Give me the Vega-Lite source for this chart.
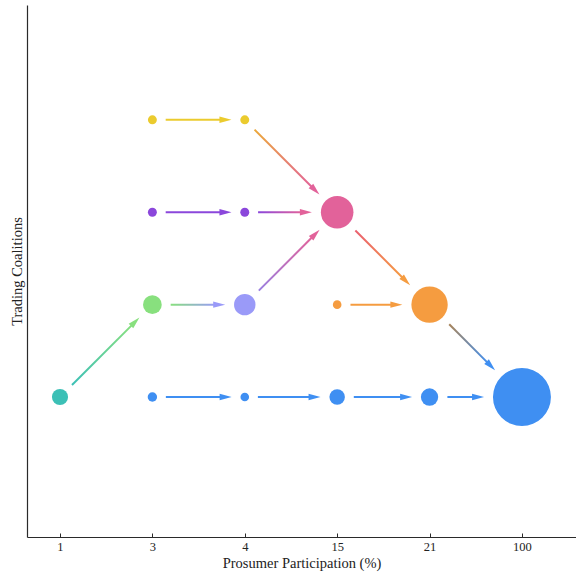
{
  "$schema": "https://vega.github.io/schema/vega-lite/v6.json",
  "width": 549,
  "height": 532,
  "autosize": {"type": "none"},
  "padding": {"left": 27, "top": 5, "right": 0, "bottom": 38},
  "background": "white",
  "config": {
    "view": {"stroke": null},
    "scale": {"continuousPadding": 0},
    "axis": {
      "grid": false,
      "domainColor": "#2a2a2a",
      "domainWidth": 1.2,
      "tickColor": "#2a2a2a",
      "labelFont": "Liberation Serif",
      "titleFont": "Liberation Serif",
      "labelColor": "#222222",
      "titleColor": "#222222",
      "titleFontWeight": "normal",
      "labelFontSize": 12.5,
      "titleFontSize": 14.5
    }
  },
  "datasets": {
    "nodes": [
      {"id": "A", "pos": 1, "level": 4, "group": "yellow", "members": 8},
      {"id": "B", "pos": 2, "level": 4, "group": "yellow", "members": 8},
      {"id": "C", "pos": 1, "level": 3, "group": "purple", "members": 8},
      {"id": "D", "pos": 2, "level": 3, "group": "purple", "members": 8},
      {"id": "E", "pos": 3, "level": 3, "group": "pink", "members": 106},
      {"id": "F", "pos": 1, "level": 2, "group": "green", "members": 35},
      {"id": "G", "pos": 2, "level": 2, "group": "lavender", "members": 46},
      {"id": "H", "pos": 3, "level": 2, "group": "orange", "members": 7.4},
      {"id": "I", "pos": 4, "level": 2, "group": "orange", "members": 132},
      {"id": "J", "pos": 0, "level": 1, "group": "teal", "members": 26},
      {"id": "K", "pos": 1, "level": 1, "group": "blue", "members": 8.8},
      {"id": "L", "pos": 2, "level": 1, "group": "blue", "members": 7.4},
      {"id": "M", "pos": 3, "level": 1, "group": "blue", "members": 24},
      {"id": "N", "pos": 4, "level": 1, "group": "blue", "members": 30},
      {"id": "O", "pos": 5, "level": 1, "group": "blue", "members": 336}
    ],
    "arrows": [
      {"id": 1, "x0": 1.144, "y0": 4, "xt": 1.856, "yt": 4, "from": "yellow", "to": "yellow"},
      {"id": 2, "x0": 1.144, "y0": 3, "xt": 1.856, "yt": 3, "from": "purple", "to": "purple"},
      {"id": 3, "x0": 2.144, "y0": 3, "xt": 2.726, "yt": 3, "from": "purple", "to": "pink"},
      {"id": 4, "x0": 1.198, "y0": 2, "xt": 1.788, "yt": 2, "from": "green", "to": "lavender"},
      {"id": 5, "x0": 3.144, "y0": 2, "xt": 3.706, "yt": 2, "from": "orange", "to": "orange"},
      {"id": 6, "x0": 1.146, "y0": 1, "xt": 1.858, "yt": 1, "from": "blue", "to": "blue"},
      {"id": 7, "x0": 2.142, "y0": 1, "xt": 2.82, "yt": 1, "from": "blue", "to": "blue"},
      {"id": 8, "x0": 3.18, "y0": 1, "xt": 3.811, "yt": 1, "from": "blue", "to": "blue"},
      {"id": 9, "x0": 4.193, "y0": 1, "xt": 4.59, "yt": 1, "from": "blue", "to": "blue"},
      {"id": 10, "x0": 0.13, "y0": 1.13, "xt": 0.86, "yt": 1.86, "from": "teal", "to": "green"},
      {"id": 11, "x0": 2.152, "y0": 2.152, "xt": 2.81, "yt": 2.81, "from": "lavender", "to": "pink"},
      {"id": 12, "x0": 2.106, "y0": 3.894, "xt": 2.808, "yt": 3.192, "from": "yellow", "to": "pink"},
      {"id": 13, "x0": 3.197, "y0": 2.803, "xt": 3.79, "yt": 2.21, "from": "pink", "to": "orange"},
      {"id": 14, "x0": 4.213, "y0": 1.787, "xt": 4.709, "yt": 1.291, "from": "orange", "to": "blue"}
    ]
  },
  "layer": [
    {
      "data": {"name": "nodes"},
      "mark": {"type": "circle", "opacity": 1},
      "encoding": {
        "x": {"field": "pos", "type": "quantitative", "title": "Prosumer Participation (%)",
          "scale": {"domain": [-0.357, 5.585], "nice": false, "zero": false, "padding": 0},
          "axis": {"values": [0, 1, 2, 3, 4, 5],
                   "labelExpr": "['1','3','4','15','21','100'][datum.value]",
                   "tickSize": -4, "labelPadding": 7, "titlePadding": 4}},
        "y": {"field": "level", "type": "quantitative", "title": "Trading Coalitions",
          "scale": {"domain": [-0.515, 5.243], "nice": false, "zero": false, "padding": 0},
          "axis": {"ticks": false, "labels": false, "titlePadding": 3}},
        "size": {"field": "members", "type": "quantitative", "legend": null,
          "scale": {"type": "linear", "zero": true, "domain": [0, 400], "range": [0, 4000]}},
        "color": {"field": "group", "type": "nominal", "legend": null,
          "scale": {"domain": ["yellow", "purple", "pink", "green", "lavender", "orange", "teal", "blue"],
                    "range": ["#EBCB2E", "#8B47DB", "#E2629A", "#88E07E", "#9A9AF8", "#F59C40", "#3CC0B6", "#3F8FF2"]}}
      }
    },
    {
      "data": {"name": "arrows"},
      "transform": [
        {"filter": "datum.from == datum.to"},
        {"calculate": "atan2(datum.yt - datum.y0, datum.xt - datum.x0)", "as": "theta"},
        {"calculate": "datum.xt - 0.1 * cos(datum.theta)", "as": "xs"},
        {"calculate": "datum.yt - 0.1 * sin(datum.theta)", "as": "ys"}
      ],
      "mark": {"type": "rule", "strokeWidth": 2},
      "encoding": {
        "x": {"field": "x0", "type": "quantitative", "title": "Prosumer Participation (%)"},
        "y": {"field": "y0", "type": "quantitative", "title": "Trading Coalitions"},
        "x2": {"field": "xs"},
        "y2": {"field": "ys"},
        "color": {"field": "from", "type": "nominal", "legend": null}
      }
    },
    {
      "data": {"name": "arrows"},
      "transform": [
        {"filter": "datum.id == 3"},
        {"calculate": "datum.xt - 0.1", "as": "xs"}
      ],
      "mark": {"type": "bar", "size": 2, "stroke": null, "cornerRadius": 0,
        "fill": {"gradient": "linear", "x1": 0, "y1": 0, "x2": 1, "y2": 0,
          "stops": [{"offset": 0, "color": "#8B47DB"}, {"offset": 1, "color": "#E2629A"}]}},
      "encoding": {
        "x": {"field": "x0", "type": "quantitative", "title": "Prosumer Participation (%)"},
        "x2": {"field": "xs"},
        "y": {"field": "y0", "type": "quantitative", "title": "Trading Coalitions"}
      }
    },
    {
      "data": {"name": "arrows"},
      "transform": [
        {"filter": "datum.id == 4"},
        {"calculate": "datum.xt - 0.1", "as": "xs"}
      ],
      "mark": {"type": "bar", "size": 2, "stroke": null, "cornerRadius": 0,
        "fill": {"gradient": "linear", "x1": 0, "y1": 0, "x2": 1, "y2": 0,
          "stops": [{"offset": 0, "color": "#88E07E"}, {"offset": 1, "color": "#9A9AF8"}]}},
      "encoding": {
        "x": {"field": "x0", "type": "quantitative", "title": "Prosumer Participation (%)"},
        "x2": {"field": "xs"},
        "y": {"field": "y0", "type": "quantitative", "title": "Trading Coalitions"}
      }
    },
    {
      "data": {"name": "arrows"},
      "transform": [
        {"filter": "datum.id == 10"},
        {"calculate": "atan2(datum.yt - datum.y0, datum.xt - datum.x0)", "as": "theta"},
        {"calculate": "datum.xt - 0.1 * cos(datum.theta)", "as": "xs"},
        {"calculate": "datum.yt - 0.1 * sin(datum.theta)", "as": "ys"}
      ],
      "mark": {"type": "rule", "strokeWidth": 2,
        "stroke": {"gradient": "linear", "x1": 0, "y1": 1, "x2": 1, "y2": 0,
          "stops": [{"offset": 0, "color": "#3CC0B6"}, {"offset": 1, "color": "#88E07E"}]}},
      "encoding": {
        "x": {"field": "x0", "type": "quantitative", "title": "Prosumer Participation (%)"},
        "y": {"field": "y0", "type": "quantitative", "title": "Trading Coalitions"},
        "x2": {"field": "xs"},
        "y2": {"field": "ys"}
      }
    },
    {
      "data": {"name": "arrows"},
      "transform": [
        {"filter": "datum.id == 11"},
        {"calculate": "atan2(datum.yt - datum.y0, datum.xt - datum.x0)", "as": "theta"},
        {"calculate": "datum.xt - 0.1 * cos(datum.theta)", "as": "xs"},
        {"calculate": "datum.yt - 0.1 * sin(datum.theta)", "as": "ys"}
      ],
      "mark": {"type": "rule", "strokeWidth": 2,
        "stroke": {"gradient": "linear", "x1": 0, "y1": 1, "x2": 1, "y2": 0,
          "stops": [{"offset": 0, "color": "#9A7FE0"}, {"offset": 1, "color": "#E2629A"}]}},
      "encoding": {
        "x": {"field": "x0", "type": "quantitative", "title": "Prosumer Participation (%)"},
        "y": {"field": "y0", "type": "quantitative", "title": "Trading Coalitions"},
        "x2": {"field": "xs"},
        "y2": {"field": "ys"}
      }
    },
    {
      "data": {"name": "arrows"},
      "transform": [
        {"filter": "datum.id == 12"},
        {"calculate": "atan2(datum.yt - datum.y0, datum.xt - datum.x0)", "as": "theta"},
        {"calculate": "datum.xt - 0.1 * cos(datum.theta)", "as": "xs"},
        {"calculate": "datum.yt - 0.1 * sin(datum.theta)", "as": "ys"}
      ],
      "mark": {"type": "rule", "strokeWidth": 2,
        "stroke": {"gradient": "linear", "x1": 0, "y1": 0, "x2": 1, "y2": 1,
          "stops": [{"offset": 0, "color": "#EBA838"}, {"offset": 1, "color": "#E2629A"}]}},
      "encoding": {
        "x": {"field": "x0", "type": "quantitative", "title": "Prosumer Participation (%)"},
        "y": {"field": "y0", "type": "quantitative", "title": "Trading Coalitions"},
        "x2": {"field": "xs"},
        "y2": {"field": "ys"}
      }
    },
    {
      "data": {"name": "arrows"},
      "transform": [
        {"filter": "datum.id == 13"},
        {"calculate": "atan2(datum.yt - datum.y0, datum.xt - datum.x0)", "as": "theta"},
        {"calculate": "datum.xt - 0.1 * cos(datum.theta)", "as": "xs"},
        {"calculate": "datum.yt - 0.1 * sin(datum.theta)", "as": "ys"}
      ],
      "mark": {"type": "rule", "strokeWidth": 2,
        "stroke": {"gradient": "linear", "x1": 0, "y1": 0, "x2": 1, "y2": 1,
          "stops": [{"offset": 0, "color": "#EA6070"}, {"offset": 1, "color": "#F59C40"}]}},
      "encoding": {
        "x": {"field": "x0", "type": "quantitative", "title": "Prosumer Participation (%)"},
        "y": {"field": "y0", "type": "quantitative", "title": "Trading Coalitions"},
        "x2": {"field": "xs"},
        "y2": {"field": "ys"}
      }
    },
    {
      "data": {"name": "arrows"},
      "transform": [
        {"filter": "datum.id == 14"},
        {"calculate": "atan2(datum.yt - datum.y0, datum.xt - datum.x0)", "as": "theta"},
        {"calculate": "datum.xt - 0.1 * cos(datum.theta)", "as": "xs"},
        {"calculate": "datum.yt - 0.1 * sin(datum.theta)", "as": "ys"}
      ],
      "mark": {"type": "rule", "strokeWidth": 2,
        "stroke": {"gradient": "linear", "x1": 0, "y1": 0, "x2": 1, "y2": 1,
          "stops": [{"offset": 0, "color": "#A8845A"}, {"offset": 1, "color": "#3F8FF2"}]}},
      "encoding": {
        "x": {"field": "x0", "type": "quantitative", "title": "Prosumer Participation (%)"},
        "y": {"field": "y0", "type": "quantitative", "title": "Trading Coalitions"},
        "x2": {"field": "xs"},
        "y2": {"field": "ys"}
      }
    },
    {
      "data": {"name": "arrows"},
      "transform": [
        {"calculate": "atan2(datum.yt - datum.y0, datum.xt - datum.x0)", "as": "theta"},
        {"calculate": "(360 - datum.theta * 180 / PI) % 360", "as": "angle"}
      ],
      "mark": {"type": "point", "shape": "M0,0L-1,-0.27L-1,0.27Z", "filled": true, "size": 576, "opacity": 1, "strokeWidth": 0},
      "encoding": {
        "x": {"field": "xt", "type": "quantitative", "title": "Prosumer Participation (%)"},
        "y": {"field": "yt", "type": "quantitative", "title": "Trading Coalitions"},
        "angle": {"field": "angle", "type": "quantitative", "scale": {"domain": [0, 360], "range": [0, 360]}},
        "color": {"field": "to", "type": "nominal", "legend": null}
      }
    }
  ]
}
